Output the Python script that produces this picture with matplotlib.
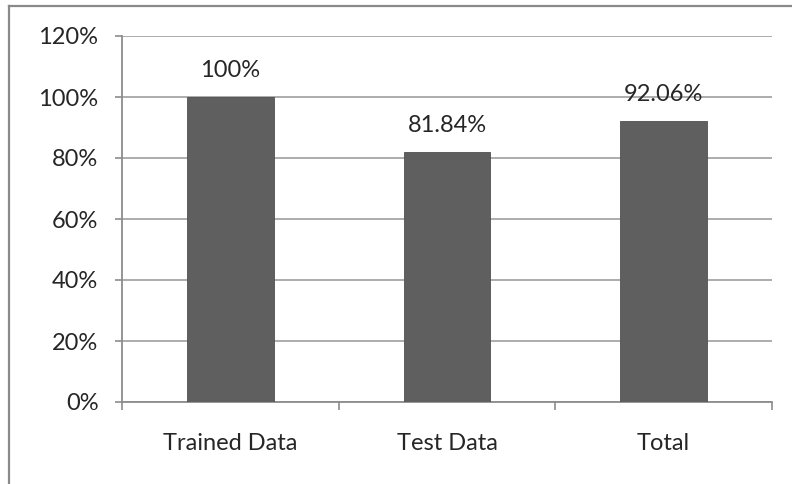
import matplotlib.pyplot as plt
from matplotlib.lines import Line2D
from matplotlib.ticker import FixedLocator, PercentFormatter

categories = ["Trained Data", "Test Data", "Total"]
values = [100.0, 81.84, 92.06]
value_labels = ["100%", "81.84%", "92.06%"]
y_ticks = [0, 20, 40, 60, 80, 100, 120]

COL_BAR = "#5f5f5f"
COL_GRID = "#a6a6a6"
COL_AXIS = "#8c8c8c"
COL_TEXT = "#262626"
FS = 17

plt.rcParams["font.family"] = ["Lato", "DejaVu Sans"]

fig = plt.figure(figsize=(7.92, 4.84), dpi=100, facecolor="white")
ax = fig.add_axes([122 / 792, 82 / 484, 650 / 792, 366 / 484])

x = list(range(len(categories)))
ax.bar(x, values, width=0.4, color=COL_BAR, edgecolor="#505050", linewidth=0.6, zorder=3)

for xi, v, lab in zip(x, values, value_labels):
    ax.annotate(lab, (xi, v), xytext=(0, 19), textcoords="offset points",
                ha="center", va="center", fontsize=FS, color=COL_TEXT, zorder=4)

ax.set_xlim(-0.5, len(categories) - 0.5)
ax.set_ylim(0, 120)
ax.set_yticks(y_ticks)
ax.yaxis.set_major_formatter(PercentFormatter(decimals=0))
ax.yaxis.grid(True, color=COL_GRID, linewidth=1.3, zorder=0)
ax.set_axisbelow(True)

ax.set_xticks(x)
ax.set_xticklabels(categories)
ax.xaxis.set_minor_locator(FixedLocator([-0.5, 0.5, 1.5, 2.5]))
ax.tick_params(axis="x", which="major", length=0, pad=22, labelsize=FS, labelcolor=COL_TEXT)
ax.tick_params(axis="x", which="minor", length=6, width=1.2, color=COL_AXIS, direction="out")
ax.tick_params(axis="y", length=5, width=1.2, color=COL_AXIS, pad=12, labelsize=FS, labelcolor=COL_TEXT)

for side in ("top", "right"):
    ax.spines[side].set_visible(False)
for side in ("left", "bottom"):
    ax.spines[side].set_color(COL_AXIS)
    ax.spines[side].set_linewidth(1.3)

# cadre exterieur (seuls les bords haut et gauche sont visibles)
fig.add_artist(Line2D([9 / 792, 1.0], [1 - 6 / 484, 1 - 6 / 484], transform=fig.transFigure,
                      color="#8a8a8a", linewidth=1.6))
fig.add_artist(Line2D([9 / 792, 9 / 792], [0, 1 - 6 / 484], transform=fig.transFigure,
                      color="#8a8a8a", linewidth=1.6))

fig.savefig("out.png", dpi=100, facecolor="white")
